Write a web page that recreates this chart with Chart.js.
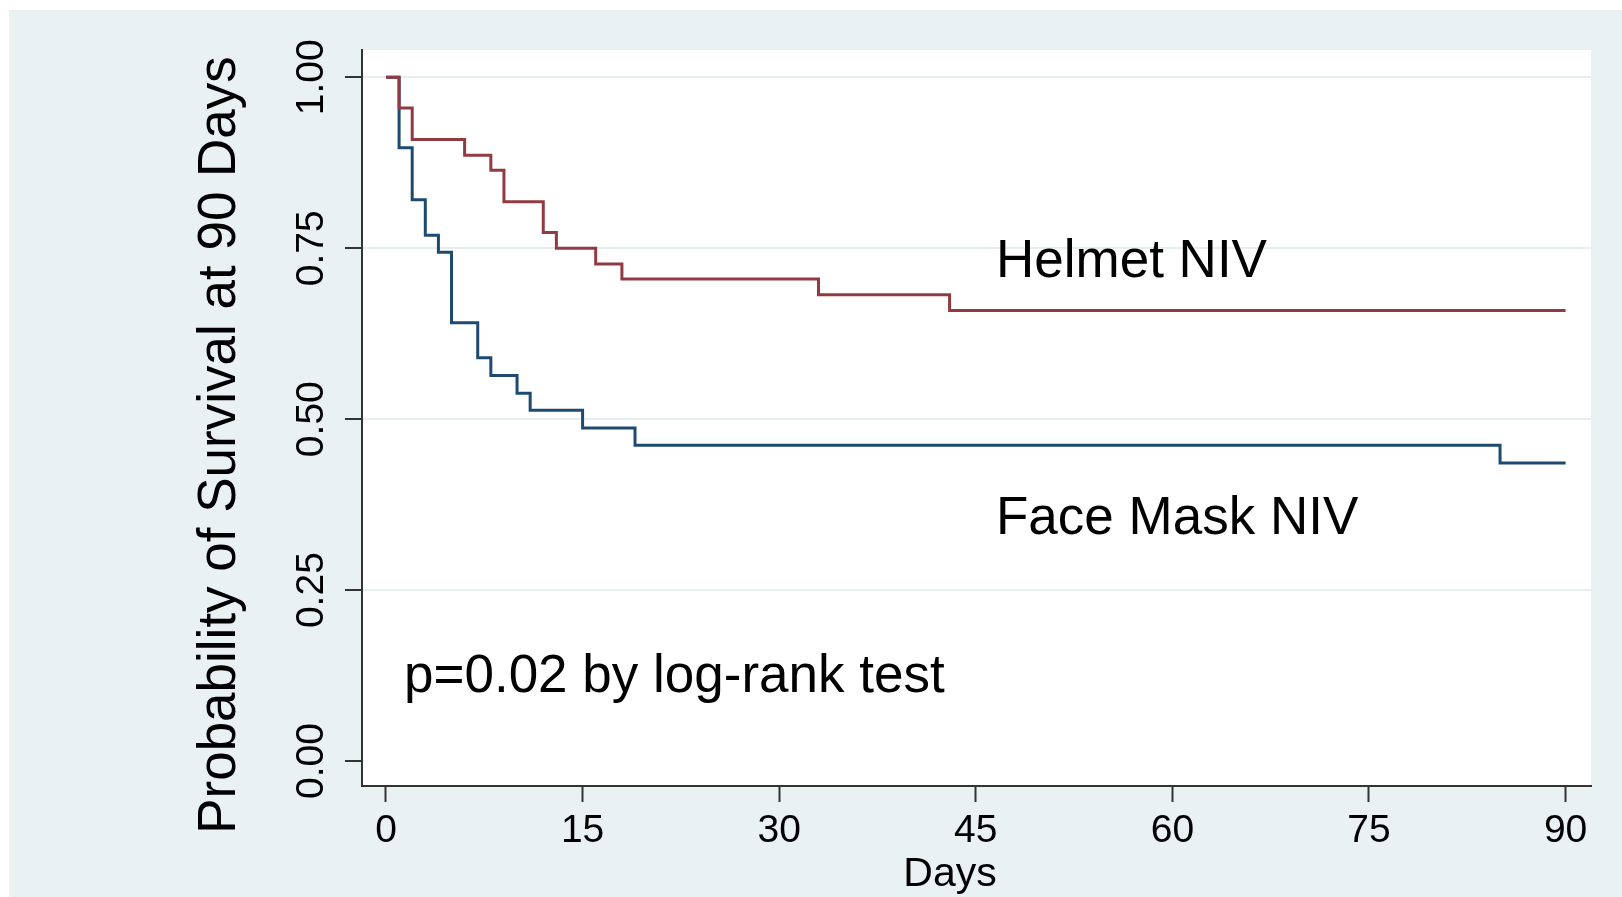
<!DOCTYPE html>
<html><head><meta charset="utf-8">
<script src="https://cdn.jsdelivr.net/npm/chart.js@4.4.1/dist/chart.umd.min.js"></script>
<style>html,body{margin:0;padding:0;background:#fff;overflow:hidden}#wrap{width:1622px;height:897px;position:relative}canvas{display:block}</style>
</head><body><div id="wrap"><canvas id="c" width="1622" height="897"></canvas></div>
<script>
// ---- data ----
const helmetDays = [0, 1, 2, 6, 8, 9, 12, 13, 16, 18, 33, 43, 90];
const helmetSurv = [1.0, 0.955, 0.909, 0.886, 0.864, 0.818, 0.773, 0.750, 0.727, 0.705, 0.682, 0.659, 0.659];
const maskDays = [0, 1, 2, 3, 4, 5, 7, 8, 10, 11, 15, 19, 85, 90];
const maskSurv = [1.0, 0.897, 0.821, 0.769, 0.744, 0.641, 0.590, 0.564, 0.538, 0.513, 0.487, 0.462, 0.436, 0.436];
const xTickValues = [0, 15, 30, 45, 60, 75, 90];
const yTickValues = [0, 0.25, 0.5, 0.75, 1];
const yTickLabels = ['0.00', '0.25', '0.50', '0.75', '1.00'];
const seriesNames = ['Helmet NIV', 'Face Mask NIV'];
const yTitle = 'Probability of Survival at 90 Days';
const xTitle = 'Days';
const pText = 'p=0.02 by log-rank test';

const FONT = "'Liberation Sans', Arial, Helvetica, sans-serif";
const BG = '#eaf1f3';

const toPts = (xs, ys) => xs.map((x, i) => ({x: x, y: ys[i]}));

const decor = {
  id: 'decor',
  beforeDraw(chart) {
    const ctx = chart.ctx, a = chart.chartArea;
    ctx.save();
    ctx.fillStyle = '#ffffff';
    ctx.fillRect(0, 0, chart.width, chart.height);
    ctx.fillStyle = BG;
    ctx.fillRect(9, 10, chart.width - 9, chart.height - 10);
    ctx.fillStyle = '#ffffff';
    ctx.fillRect(a.left, a.top, a.right - a.left, a.bottom - a.top);
    ctx.restore();
  },
  afterDraw(chart) {
    const ctx = chart.ctx;
    ctx.save();
    ctx.fillStyle = '#000';
    ctx.textBaseline = 'alphabetic';
    ctx.textAlign = 'left';
    ctx.font = '53px ' + FONT;
    ctx.fillText(seriesNames[0], 996, 277);
    ctx.fillText(seriesNames[1], 996, 534);
    ctx.font = '53px ' + FONT;
    ctx.fillText(pText, 404, 692);
    ctx.textAlign = 'center';
    ctx.font = '41px ' + FONT;
    ctx.fillText(xTitle, 950, 886);
    ctx.translate(235, 445);
    ctx.rotate(-Math.PI / 2);
    ctx.font = '53px ' + FONT;
    ctx.fillText(yTitle, 0, 0);
    ctx.restore();
  }
};

new Chart(document.getElementById('c'), {
  type: 'line',
  data: {
    datasets: [
      {label: seriesNames[0], data: toPts(helmetDays, helmetSurv), borderColor: '#923a42', borderWidth: 3, pointRadius: 0, stepped: true, fill: false},
      {label: seriesNames[1], data: toPts(maskDays, maskSurv), borderColor: '#1f4a6f', borderWidth: 3, pointRadius: 0, stepped: true, fill: false}
    ]
  },
  options: {
    responsive: false,
    animation: false,
    devicePixelRatio: 1,
    layout: {padding: {top: 50, right: 31, left: 0, bottom: 0}},
    plugins: {legend: {display: false}, tooltip: {enabled: false}},
    scales: {
      x: {
        type: 'linear', position: 'bottom', min: -1.83, max: 91.94,
        afterBuildTicks: s => { s.ticks = xTickValues.map(v => ({value: v})); },
        afterFit: s => { s.height = 111; },
        grid: {display: true, drawOnChartArea: false, drawTicks: true, tickLength: 16, tickColor: '#333', tickWidth: 2},
        border: {display: true, color: '#333', width: 2},
        ticks: {autoSkip: false, maxRotation: 0, minRotation: 0, padding: 6, color: '#000', font: {family: FONT, size: 39}, callback: v => String(v)}
      },
      y: {
        type: 'linear', position: 'left', min: -0.0365, max: 1.04,
        afterBuildTicks: s => { s.ticks = yTickValues.map(v => ({value: v})); },
        afterFit: s => { s.width = 362; },
        grid: {display: true, drawOnChartArea: true, drawTicks: true, tickLength: 17, lineWidth: 2,
               color: c => (c.tick && c.tick.value === 0) ? 'rgba(0,0,0,0)' : '#e6eef0',
               tickColor: '#333', tickWidth: 2},
        border: {display: true, color: '#333', width: 2},
        ticks: {autoSkip: false, minRotation: 90, maxRotation: 90, crossAlign: 'center', padding: -5, color: '#000', font: {family: FONT, size: 39},
                callback: v => { const i = yTickValues.indexOf(v); return i >= 0 ? yTickLabels[i] : ''; }}
      }
    }
  },
  plugins: [decor]
});
</script>
</body></html>
